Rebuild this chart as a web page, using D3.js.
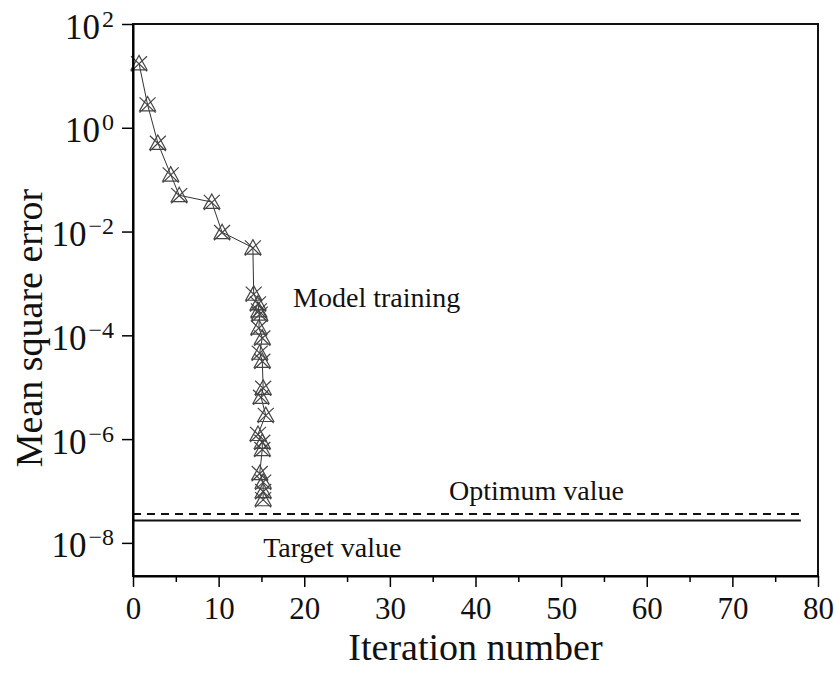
<!DOCTYPE html>
<html>
<head>
<meta charset="utf-8">
<script src="https://cdn.jsdelivr.net/npm/d3@7"></script>
<style>
  body { margin: 0; background: #fff; }
  text { font-family: "Liberation Serif", "Times New Roman", serif; fill: #111; }
</style>
</head>
<body>
<div id="chart"></div>
<script>
// iteration number (x) and mean square error (y)
const iterations = [0.7, 1.7, 2.9, 4.4, 5.4, 9.2, 10.4, 14.0,
   14.1, 14.6, 14.7, 14.8, 14.7, 15.1, 14.8, 15.1, 15.2, 14.95,
   15.5, 14.6, 15.1, 15.1, 14.8, 15.2, 15.2, 15.2];
const mse = [17.4, 2.8, 0.51, 0.125, 0.05, 0.037, 0.0097, 0.0049,
   6.3e-4, 4.1e-4, 3.0e-4, 2.6e-4, 1.4e-4, 9.0e-5, 4.6e-5, 3.2e-5, 9.7e-6, 6.5e-6,
   2.9e-6, 1.25e-6, 8.8e-7, 6.4e-7, 2.2e-7, 1.5e-7, 9.9e-8, 6.9e-8];

const optimumValue = 3.6e-8;
const targetValue = 2.7e-8;
const refLineEnd = 78;

const xTicks = [0, 10, 20, 30, 40, 50, 60, 70, 80];
const xMinorTicks = [5, 15, 25, 35, 45, 55, 65, 75];
const yTickExps = [2, 0, -2, -4, -6, -8];

const annotations = [
   {text: 'Model training', x: 18.7, y: 3.5e-4},
   {text: 'Optimum value', x: 36.9, y: 6.7e-8},
   {text: 'Target value', x: 15.2, y: 5.4e-9}
];

const width = 836;
const height = 677;
const margin = {top: 24, right: 18, bottom: 101, left: 133};

const svg = d3.select('#chart')
              .append('svg')
              .attr('width', width)
              .attr('height', height);

const x = d3.scaleLinear()
            .domain([0, 80])
            .range([margin.left, width - margin.right]);

const y = d3.scaleLog()
            .domain([2.3e-9, 100])
            .range([height - margin.bottom, margin.top]);

const points = iterations.map((d, i) => ({x: d, y: mse[i]}));

// reference lines
svg.append('line')
   .attr('x1', x(0)).attr('x2', x(refLineEnd))
   .attr('y1', y(optimumValue)).attr('y2', y(optimumValue))
   .attr('stroke', '#111').attr('stroke-width', 2)
   .attr('stroke-dasharray', '8,6');

svg.append('line')
   .attr('x1', x(0)).attr('x2', x(refLineEnd))
   .attr('y1', y(targetValue)).attr('y2', y(targetValue))
   .attr('stroke', '#111').attr('stroke-width', 2);

// training curve
const line = d3.line().x(d => x(d.x)).y(d => y(d.y));
svg.append('path')
   .datum(points)
   .attr('fill', 'none')
   .attr('stroke', '#333')
   .attr('stroke-width', 1)
   .attr('d', line);

// triangle + cross markers
const s = 8;
const markerPath = `M0,${-s}L${s},${s * 0.8}L${-s},${s * 0.8}Z` +
                   `M${-s},${-s * 0.9}L${s},${s}M${s},${-s * 0.9}L${-s},${s}`;
svg.append('g')
   .selectAll('path')
   .data(points)
   .join('path')
   .attr('transform', d => `translate(${x(d.x)},${y(d.y)})`)
   .attr('d', markerPath)
   .attr('fill', 'none')
   .attr('stroke', '#444')
   .attr('stroke-width', 1.2);

// frame
svg.append('rect')
   .attr('x', margin.left).attr('y', margin.top)
   .attr('width', width - margin.left - margin.right)
   .attr('height', height - margin.top - margin.bottom)
   .attr('fill', 'none').attr('stroke', '#111').attr('stroke-width', 2);

// x axis
const xAxis = svg.append('g')
   .attr('transform', `translate(0, ${height - margin.bottom})`)
   .call(d3.axisBottom(x).tickValues(xTicks).tickSize(11).tickSizeOuter(0).tickFormat(d3.format('d')));
xAxis.select('.domain').attr('stroke-width', 2);
xAxis.selectAll('.tick line').attr('stroke-width', 1.5);
xAxis.selectAll('.tick text')
     .attr('y', 21).attr('dy', '0.71em')
     .attr('font-size', 31)
     .style('font-family', '"Liberation Serif", serif');

svg.append('g')
   .attr('transform', `translate(0, ${height - margin.bottom})`)
   .call(d3.axisBottom(x).tickValues(xMinorTicks).tickSize(6).tickSizeOuter(0).tickFormat(''))
   .call(g => g.select('.domain').remove())
   .selectAll('.tick line').attr('stroke-width', 1.5);

// y axis
const yAxis = svg.append('g')
   .attr('transform', `translate(${margin.left}, 0)`)
   .call(d3.axisLeft(y).tickValues(yTickExps.map(e => Math.pow(10, e))).tickSize(11).tickSizeOuter(0).tickFormat(''));
yAxis.select('.domain').attr('stroke-width', 2);
yAxis.selectAll('.tick line').attr('stroke-width', 1.5);
yAxis.selectAll('.tick text').remove();
yAxis.selectAll('.tick').each(function(d) {
   const e = Math.round(Math.log10(d));
   const t = d3.select(this).append('text')
               .attr('x', -19).attr('y', 14)
               .attr('text-anchor', 'end')
               .attr('font-size', 35);
   t.append('tspan').text('10');
   t.append('tspan').attr('dx', 2).attr('dy', -12).attr('font-size', 24)
    .text(e < 0 ? '\u2212' + (-e) : String(e));
});

// axis titles
svg.append('text')
   .attr('x', (margin.left + width - margin.right) / 2)
   .attr('y', 660)
   .attr('text-anchor', 'middle')
   .attr('font-size', 38)
   .text('Iteration number');

svg.append('text')
   .attr('transform', `translate(42, ${(margin.top + height - margin.bottom) / 2 + 28}) rotate(-90)`)
   .attr('text-anchor', 'middle')
   .attr('font-size', 38)
   .text('Mean square error');

// annotations
svg.append('g')
   .selectAll('text')
   .data(annotations)
   .join('text')
   .attr('x', d => x(d.x))
   .attr('y', d => y(d.y))
   .attr('font-size', 28)
   .text(d => d.text);
</script>
</body>
</html>
